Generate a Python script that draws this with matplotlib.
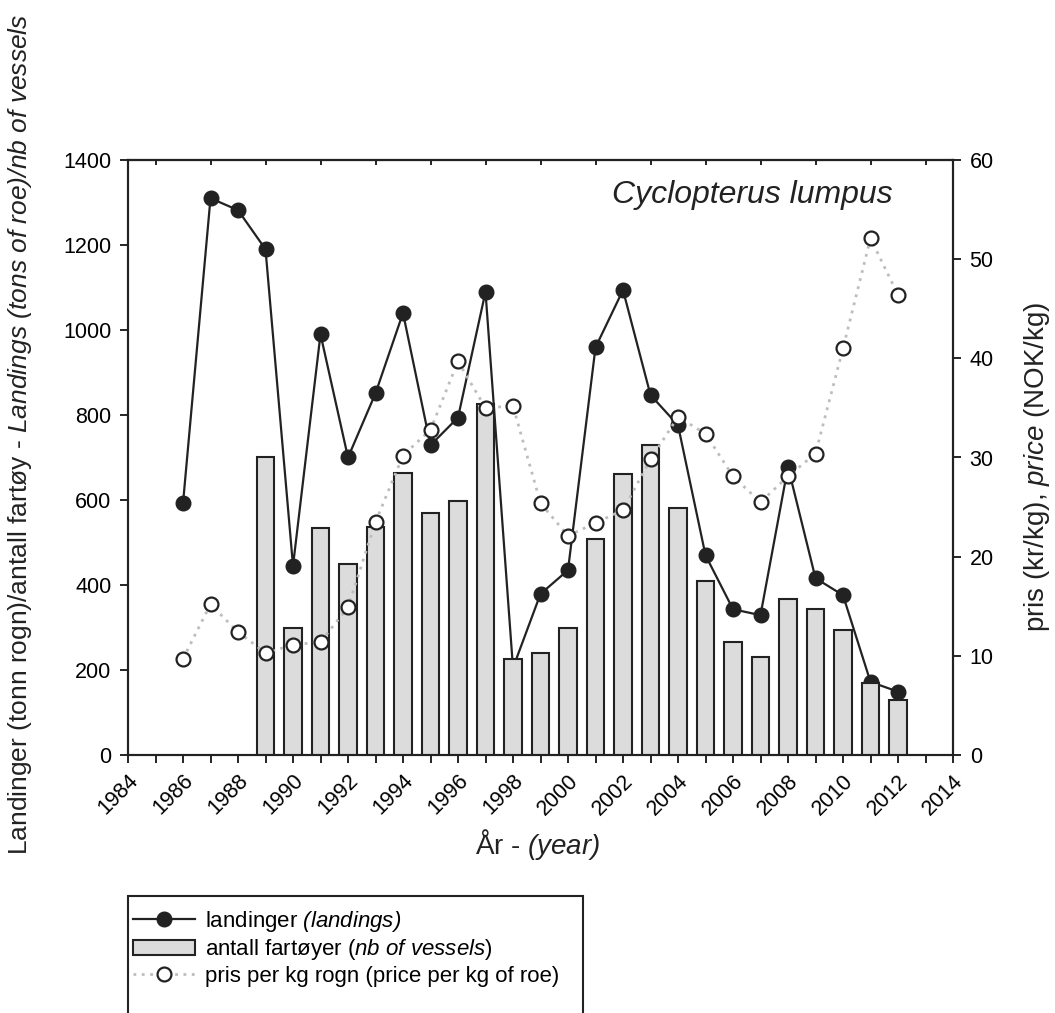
import matplotlib
matplotlib.use("Agg")
import matplotlib.pyplot as plt
from matplotlib.patches import Rectangle, Patch
from matplotlib.lines import Line2D

plt.rcParams['font.family'] = ['Liberation Sans', 'DejaVu Sans']
# everything inside $...$ is italic (letters and brackets alike)
plt.rcParams['mathtext.fontset'] = 'custom'
plt.rcParams['mathtext.rm'] = 'Liberation Sans:italic'
plt.rcParams['mathtext.it'] = 'Liberation Sans:italic'

#%% data
years_landings = list(range(1986, 2013))
landings = [592, 1310, 1282, 1190, 445, 990, 700, 851, 1040, 729, 794, 1090, 205,
            379, 435, 959, 1094, 847, 776, 470, 343, 329, 678, 416, 376, 172, 149]

years_vessels = list(range(1989, 2013))
vessels = [700, 300, 533, 449, 536, 663, 570, 598, 826, 225, 239, 298, 509, 660,
           729, 582, 409, 265, 231, 366, 343, 294, 170, 129]

years_price = list(range(1986, 2013))
price = [9.7, 15.2, 12.4, 10.3, 11.1, 11.4, 14.9, 23.5, 30.2, 32.8, 39.7, 35.0, 35.2,
         25.4, 22.1, 23.4, 24.7, 29.8, 34.1, 32.4, 28.1, 25.5, 28.1, 30.4, 41.0, 52.1, 46.4]

W, H = 1055, 1013
dark = '#222222'

#%% figure
fig = plt.figure(figsize=(W / 100, H / 100), dpi=100)
ax = fig.add_axes([128 / W, 1 - 755 / H, (953 - 128) / W, (755 - 160) / H])
ax2 = ax.twinx()

ax.plot(years_landings, landings, color=dark, lw=1.6, marker='o', ms=10.5,
        mfc=dark, mec=dark, zorder=2)
ax.bar(years_vessels, vessels, width=0.64, color='#dcdcdc', edgecolor=dark,
       linewidth=1.5, zorder=3)
ax2.plot(years_price, price, color='#bdbdbd', lw=2, linestyle=(0, (1, 2)), zorder=2)
ax2.plot(years_price, price, linestyle='none', marker='o', ms=10, mfc='white',
         mec=dark, mew=1.6, zorder=3)

ax.set_xlim(1984, 2014)
ax.set_ylim(0, 1400)
ax2.set_ylim(0, 60)
ax.set_xticks(range(1984, 2015, 2))
ax.set_xticks(range(1984, 2015), minor=True)
ax.set_yticks(range(0, 1401, 200))
ax2.set_yticks(range(0, 61, 10))

ax.tick_params(axis='x', which='both', direction='out', length=6, width=1.2,
               top=False, labelsize=15.5, pad=5)
ax.tick_params(axis='y', direction='out', length=6, width=1.2, labelsize=15.5, pad=6)
ax2.tick_params(axis='y', direction='out', length=6, width=1.2, labelsize=15.5, pad=6)
for lab in ax.get_xticklabels():
    lab.set_rotation(45)
    lab.set_ha('right')
    lab.set_rotation_mode('anchor')

# top ticks pointing inward at odd years
top = ax.secondary_xaxis('top')
top.set_xticks(range(1985, 2014, 2))
top.tick_params(direction='in', length=3.5, width=1.2, labeltop=False)

for a in (ax, ax2):
    for s in a.spines.values():
        s.set_linewidth(1.5)
        s.set_color(dark)
top.spines['top'].set_linewidth(1.5)

ax.text(0.927, 0.927, 'Cyclopterus lumpus', transform=ax.transAxes, ha='right',
        va='baseline', fontsize=23, style='italic', color=dark)

#%% axis labels
fig.text(20 / W, 1 - 434 / H,
         r'Landinger (tonn rogn)/antall fartøy - $Landings\ (tons\ of\ roe)/nb\ of\ vessels$',
         rotation=90, ha='center', va='center', fontsize=19, color=dark)
fig.text(1037 / W, 1 - 467 / H, r'pris (kr/kg), $price$ (NOK/kg)',
         rotation=90, ha='center', va='center', fontsize=20, color=dark)
fig.text(538 / W, 1 - 845 / H, r'År - $(year)$', ha='center', va='center',
         fontsize=20, color=dark)

#%% legend (bottom edge of the box runs off the figure)
handles = [
    Line2D([], [], color=dark, lw=1.6, marker='o', ms=10.5, mfc=dark, mec=dark),
    Patch(facecolor='#dcdcdc', edgecolor=dark, linewidth=1.5),
    Line2D([], [], color='#bdbdbd', lw=2, linestyle=(0, (1, 2)), marker='o', ms=10,
           mfc='white', mec=dark, mew=1.6),
]
labels = [r'landinger $(landings)$',
          r'antall fartøyer ($nb\ of\ vessels$)',
          'pris per kg rogn (price per kg of roe)']
fig.legend(handles, labels, loc='upper left', bbox_to_anchor=(133 / W, 1 - 909 / H),
           frameon=False, fontsize=16, handlelength=2.8, handletextpad=0.45,
           labelspacing=0.15, borderpad=0, borderaxespad=0)
fig.patches.append(Rectangle((128 / W, -0.05), (583 - 128) / W, 0.05 + 1 - 896 / H,
                             transform=fig.transFigure, fill=False, lw=1.5, ec=dark))

fig.savefig('out.png', dpi=100)
